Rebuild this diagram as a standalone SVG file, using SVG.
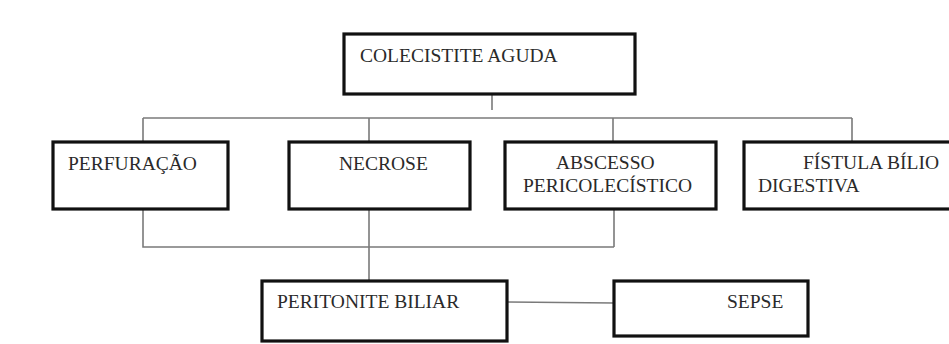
<svg xmlns="http://www.w3.org/2000/svg" width="949" height="344" viewBox="0 0 949 344">
<style>
.box{fill:#fff;stroke:#111;stroke-width:3.2}
.t{font-family:"Liberation Serif","Times New Roman",serif;font-size:19.5px;fill:#2a2a2a}
.c{fill:none;stroke:#7a7a7a;stroke-width:1.6}
</style>
<rect width="949" height="344" fill="#fff"/>
<g id="connectors">
<path class="c" d="M492 79V110"/>
<path class="c" d="M143 118H852"/>
<path class="c" d="M143 118V142M369 118V142M613 118V142M852 118V142"/>
<path class="c" d="M143 209V247H614M369 209V281M614 209V247"/>
<path class="c" d="M507 302L614 303"/>
</g>
<g id="colecistite">
<rect class="box" x="344" y="34" width="291" height="60"/>
<text class="t" x="360" y="62">COLECISTITE AGUDA</text>
</g>
<g id="perfuracao">
<rect class="box" x="53" y="142" width="175" height="67"/>
<text class="t" x="68" y="170">PERFURAÇÃO</text>
</g>
<g id="necrose">
<rect class="box" x="289" y="142" width="181" height="67"/>
<text class="t" x="339" y="170">NECROSE</text>
</g>
<g id="abscesso">
<rect class="box" x="505" y="142" width="211" height="67"/>
<text class="t" x="556" y="169">ABSCESSO</text>
<text class="t" x="523" y="192">PERICOLECÍSTICO</text>
</g>
<g id="fistula">
<rect class="box" x="744" y="142" width="220" height="67"/>
<text class="t" x="803" y="169">FÍSTULA BÍLIO</text>
<text class="t" x="758" y="192">DIGESTIVA</text>
</g>
<g id="peritonite">
<rect class="box" x="262" y="281" width="245" height="60"/>
<text class="t" x="277" y="308">PERITONITE BILIAR</text>
</g>
<g id="sepse">
<rect class="box" x="614" y="281" width="194" height="55"/>
<text class="t" x="727" y="308">SEPSE</text>
</g>
</svg>
